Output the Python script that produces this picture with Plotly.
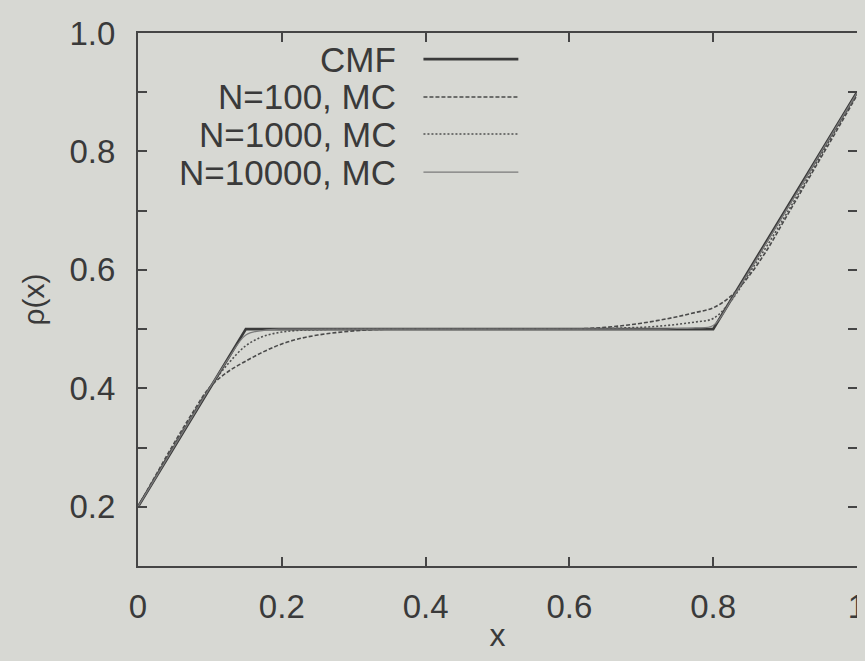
import plotly.graph_objects as go

# ---- data ----
x_cmf = [0.0, 0.15, 0.8, 1.0]
y_cmf = [0.2, 0.5, 0.5, 0.9]

x_mc = [0.0, 0.025, 0.05, 0.075, 0.1, 0.125, 0.15, 0.175, 0.2, 0.225, 0.25, 0.275,
        0.3, 0.325, 0.35, 0.4, 0.45, 0.5, 0.55, 0.6, 0.625, 0.65, 0.675, 0.7,
        0.725, 0.75, 0.775, 0.8, 0.825, 0.85, 0.875, 0.9, 0.925, 0.95, 0.975, 1.0]

y_n100 = [0.200, 0.254, 0.307, 0.357, 0.402, 0.428, 0.446, 0.462, 0.475, 0.484, 0.490, 0.494,
          0.497, 0.499, 0.500, 0.500, 0.500, 0.500, 0.500, 0.500, 0.501, 0.503, 0.506, 0.510,
          0.515, 0.521, 0.528, 0.536, 0.556, 0.590, 0.634, 0.686, 0.738, 0.790, 0.842, 0.895]

y_n1000 = [0.200, 0.252, 0.304, 0.354, 0.402, 0.441, 0.472, 0.488, 0.495, 0.498, 0.499, 0.500,
           0.500, 0.500, 0.500, 0.500, 0.500, 0.500, 0.500, 0.500, 0.500, 0.501, 0.502, 0.503,
           0.505, 0.508, 0.512, 0.518, 0.548, 0.594, 0.641, 0.691, 0.742, 0.794, 0.846, 0.897]

y_n10000 = [0.200, 0.250, 0.301, 0.351, 0.401, 0.449, 0.490, 0.498, 0.500, 0.500, 0.500, 0.500,
            0.500, 0.500, 0.500, 0.500, 0.500, 0.500, 0.500, 0.500, 0.500, 0.500, 0.500, 0.500,
            0.500, 0.501, 0.502, 0.506, 0.549, 0.598, 0.648, 0.698, 0.748, 0.799, 0.849, 0.899]

legend_labels = ["CMF", "N=100, MC", "N=1000, MC", "N=10000, MC"]
x_ticks = [0, 0.2, 0.4, 0.6, 0.8, 1.0]
x_ticktext = ["0", "0.2", "0.4", "0.6", "0.8", "1"]
y_ticks = [0.2, 0.4, 0.6, 0.8, 1.0]
y_ticktext = ["0.2", "0.4", "0.6", "0.8", "1.0"]

# ---- styling ----
BG = "#d7d8d3"
INK = "#3a3a3a"
FONT = "Liberation Sans, Arial, sans-serif"
styles = [
    dict(color="#3a3a3a", width=2.6, dash="solid"),
    dict(color="#4a4a4a", width=1.6, dash="4px,2px"),
    dict(color="#505050", width=1.6, dash="2px,2px"),
    dict(color="#7a7a7a", width=1.2, dash="solid"),
]

fig = go.Figure()
series = [(x_cmf, y_cmf, "linear"), (x_mc, y_n100, "spline"),
          (x_mc, y_n1000, "spline"), (x_mc, y_n10000, "spline")]
for (xs, ys, shp), lab, st in zip(series, legend_labels, styles):
    fig.add_trace(go.Scatter(x=xs, y=ys, mode="lines", name=lab,
                             line=dict(shape=shp, **st), showlegend=False))

# gnuplot-style key: text right-aligned, sample line on the right
row_y = [0.951, 0.880, 0.8105, 0.739]
for lab, st, yy in zip(legend_labels, styles, row_y):
    fig.add_annotation(x=0.3616, y=yy, xref="paper", yref="paper", text=lab,
                       showarrow=False, xanchor="right", yanchor="middle",
                       font=dict(family=FONT, size=35, color=INK))
    fig.add_shape(type="line", xref="paper", yref="paper",
                  x0=0.397, x1=0.529, y0=yy, y1=yy,
                  line=dict(color=st["color"], width=st["width"], dash=st["dash"]))

axis_common = dict(
    showline=True, linecolor="#454545", linewidth=2, mirror="ticks",
    ticks="inside", ticklen=9, tickwidth=1.5, tickcolor="#454545",
    showgrid=False, zeroline=False, automargin=False,
    tickfont=dict(family=FONT, size=33, color=INK),
)

fig.update_xaxes(range=[0, 1], tickvals=x_ticks, ticktext=x_ticktext,
                 ticklabelstandoff=10,
                 title=dict(text="x", font=dict(family=FONT, size=32, color=INK), standoff=0),
                 **axis_common)
fig.update_yaxes(range=[0.1, 1.0], tickvals=y_ticks, ticktext=y_ticktext,
                 ticklabelstandoff=14,
                 minor=dict(dtick=0.1, tick0=0.1, ticks="inside", ticklen=9,
                            tickwidth=1.5, tickcolor="#454545"),
                 title=dict(text="ρ(x)", font=dict(family=FONT, size=30, color=INK), standoff=16),
                 **axis_common)

# page body has an 8px margin, so offset the margins accordingly
fig.update_layout(
    width=865, height=661,
    margin=dict(l=130, r=16, t=25, b=103),
    paper_bgcolor=BG, plot_bgcolor=BG,
    font=dict(family=FONT, color=INK),
)

fig.write_html(
    "out.html",
    post_script=(
        "document.documentElement.style.background='%s';"
        "document.body.style.background='%s';" % (BG, BG)
    ),
)
